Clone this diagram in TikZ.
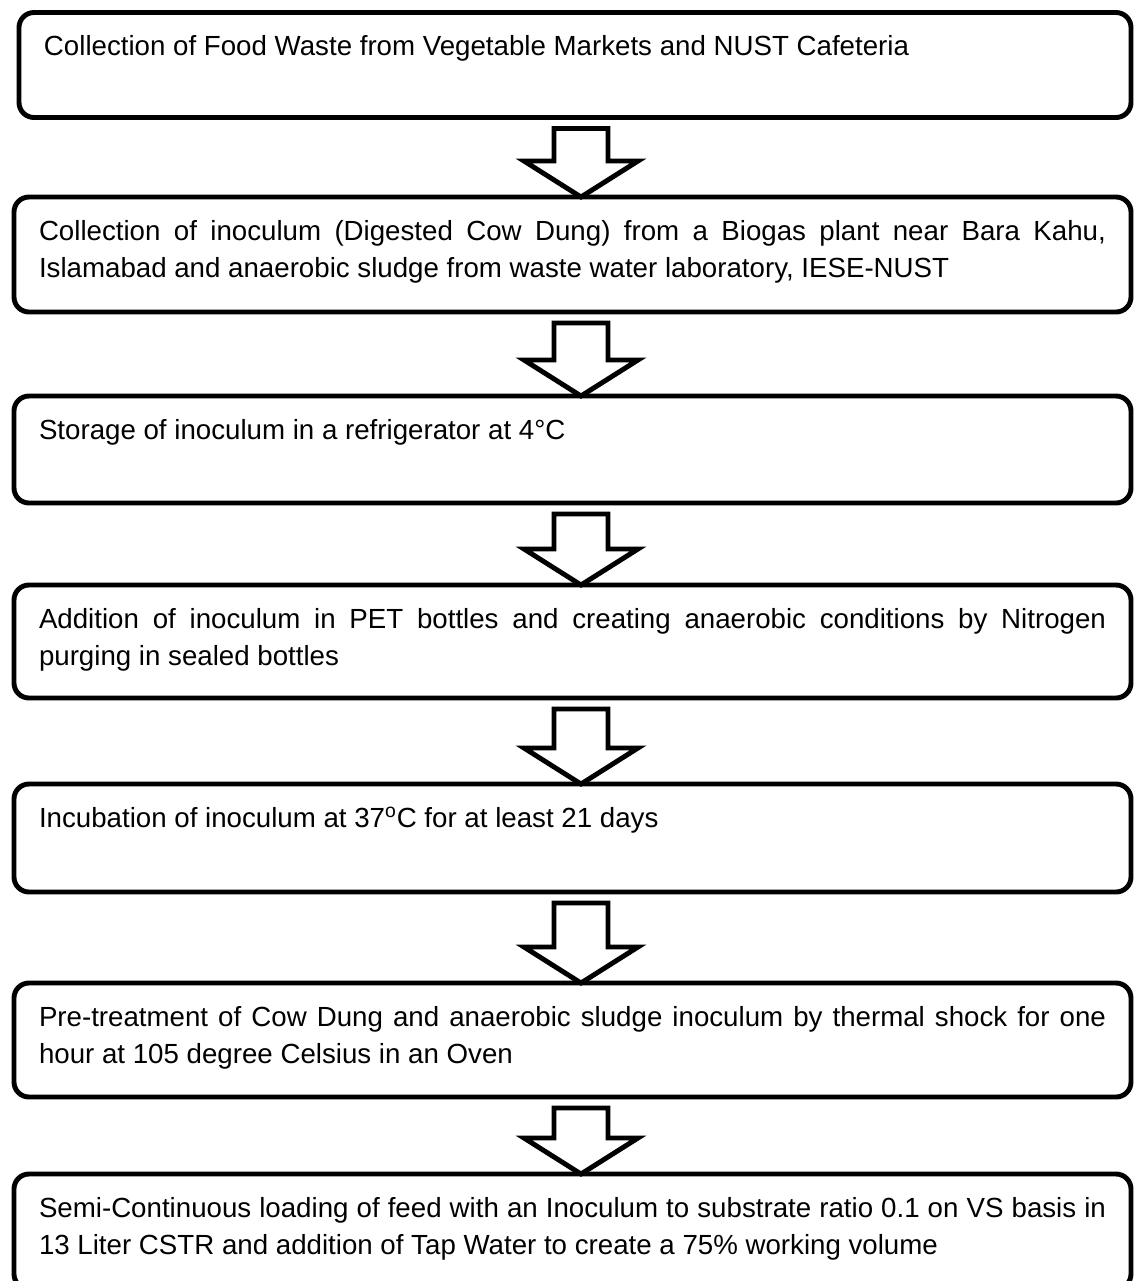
\documentclass[tikz,border=0pt]{standalone}
\usepackage{fontspec}
\setmainfont{Liberation Sans}
\usepackage{tikz}
\usetikzlibrary{positioning, calc}
\sloppy

% hollow block arrow from one stage down to the next
\newcommand{\stagearrow}[2]{%
  \draw[hollow] ($(#2.north |- #1.south)+(-0.37,-0.22)$) -- ($(#2.north)+(-0.37,0.72)$) -- ++(-0.6,0)
    -- ($(#2.north)+(0.17,0)$) -- ($(#2.north)+(1.31,0.72)$) -- ++(-0.6,0)
    -- ($(#2.north |- #1.south)+(0.71,-0.22)$) -- cycle;}

\begin{document}
\begin{tikzpicture}[
  stage/.style={draw, line width=2.8pt, rounded corners=0.3cm, align=justify, outer sep=0pt,
    text width=21.34cm, inner xsep=0.5cm, inner ysep=0.3cm, text height=0.56cm, text depth=#1,
    font=\fontsize{15.75pt}{21.6pt}\selectfont},
  hollow/.style={draw, line width=2.8pt, fill=white, line join=miter}
]
\useasboundingbox (0,0) rectangle (22.7,-25.62);

\node[stage=0.94cm, anchor=north west, text width=21.24cm] (food) at (0.38,-0.25) {Collection of Food Waste from Vegetable Markets and NUST Cafeteria};
\node[stage=1.14cm, below=1.59cm of food, xshift=-0.05cm] (inoculum) {Collection of inoculum (Digested Cow Dung) from a Biogas plant near Bara Kahu,\linebreak Islamabad and anaerobic sludge from waste water laboratory, IESE-NUST};
\node[stage=0.98cm, below=1.68cm of inoculum] (storage) {Storage of inoculum in a refrigerator at 4°C};
\node[stage=1.10cm, below=1.64cm of storage] (purging) {Addition of inoculum in PET bottles and creating anaerobic conditions by Nitrogen\linebreak purging in sealed bottles};
\node[stage=1.00cm, below=1.72cm of purging] (incubation) {Incubation of inoculum at 37\textsuperscript{o}C for at least 21 days};
\node[stage=1.12cm, below=1.82cm of incubation] (pretreat) {Pre-treatment of Cow Dung and anaerobic sludge inoculum by thermal shock for one\linebreak hour at 105 degree Celsius in an Oven};
\node[stage=1.14cm, below=1.54cm of pretreat] (loading) {Semi-Continuous loading of feed with an Inoculum to substrate ratio 0.1 on VS basis in\linebreak 13 Liter CSTR and addition of Tap Water to create a 75\% working volume};

\stagearrow{food}{inoculum}
\stagearrow{inoculum}{storage}
\stagearrow{storage}{purging}
\stagearrow{purging}{incubation}
\stagearrow{incubation}{pretreat}
\stagearrow{pretreat}{loading}
\end{tikzpicture}
\end{document}
